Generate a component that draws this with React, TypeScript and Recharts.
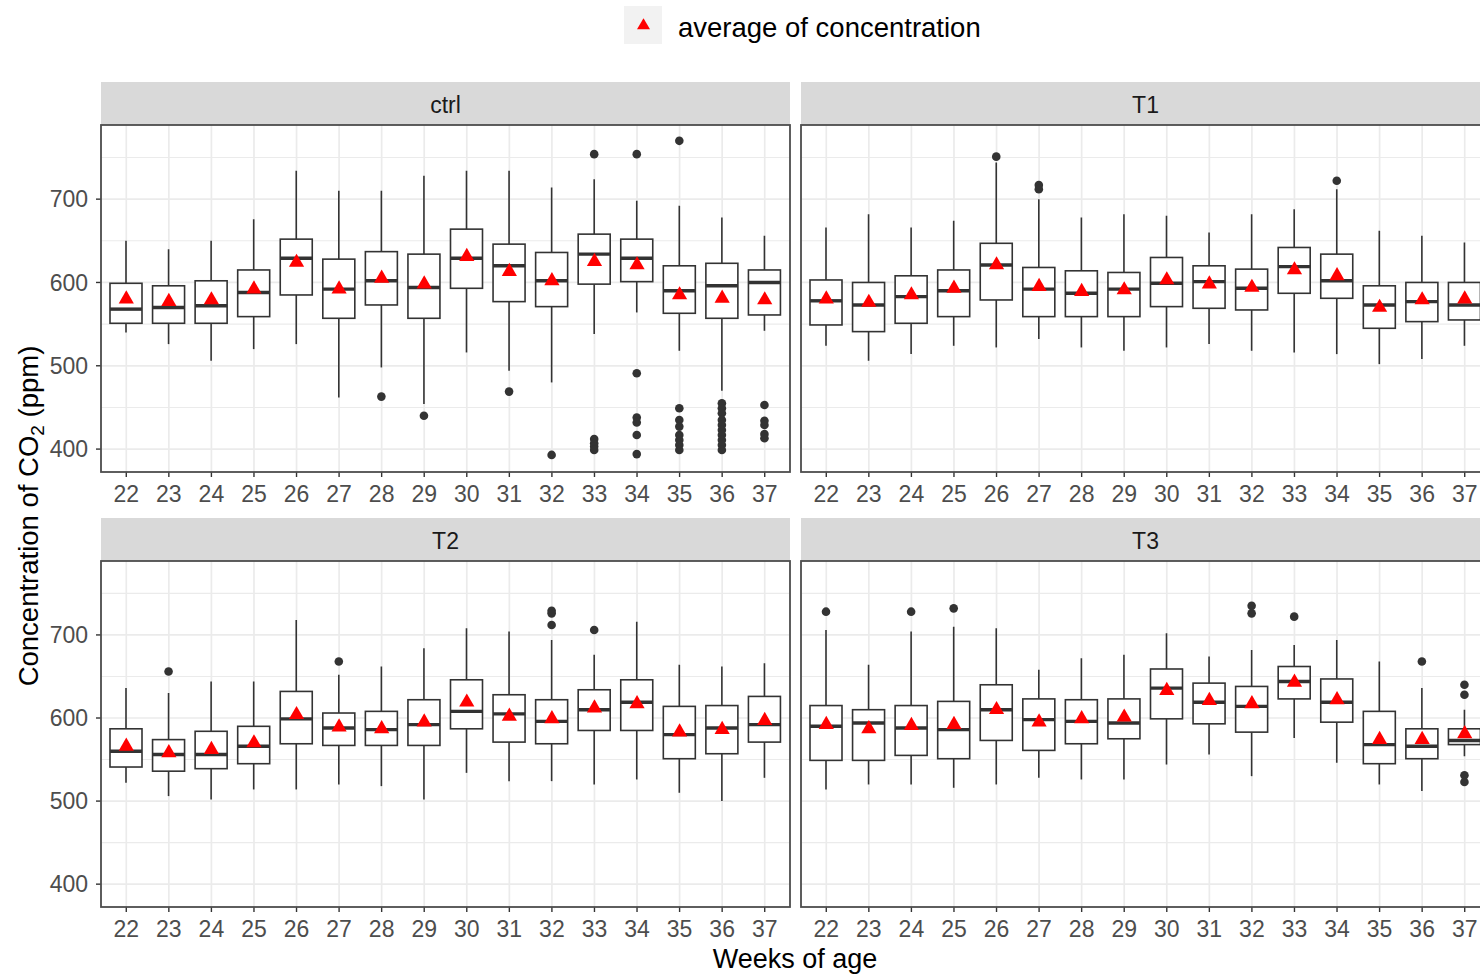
import React from "react";
import { ComposedChart, Bar, Line, XAxis, YAxis, CartesianGrid } from "recharts";

// ---------- data ----------
const weeks = [22, 23, 24, 25, 26, 27, 28, 29, 30, 31, 32, 33, 34, 35, 36, 37];

const ctrlLow = [540, 526, 506, 520, 526, 462, 498, 454, 516, 494, 480, 538, 564, 518, 470, 542];
const ctrlQ1 = [551, 551, 551, 559, 585, 557, 573, 557, 593, 577, 571, 598, 601, 563, 557, 561];
const ctrlMedian = [568, 570, 572, 588, 629, 592, 602, 594, 629, 620, 602, 634, 629, 590, 596, 600];
const ctrlQ3 = [599, 596, 602, 615, 652, 628, 637, 634, 664, 646, 636, 658, 652, 620, 623, 615];
const ctrlHigh = [650, 640, 650, 676, 734, 710, 710, 728, 734, 734, 714, 724, 698, 692, 678, 656];
const ctrlMean = [580, 577, 579, 592, 624, 592, 605, 598, 631, 613, 602, 625, 621, 585, 581, 579];
const ctrlOutliers = [
  [], [], [], [], [], [], [463], [440], [], [469], [393],
  [754, 412, 407, 403, 399],
  [754, 491, 438, 432, 417, 394],
  [770, 449, 435, 427, 417, 411, 405, 399],
  [455, 449, 443, 435, 429, 423, 417, 411, 405, 399],
  [453, 434, 429, 418, 413],
];

const t1Low = [524, 506, 514, 524, 522, 532, 522, 518, 522, 526, 518, 516, 514, 502, 508, 524];
const t1Q1 = [549, 541, 551, 559, 579, 559, 559, 559, 571, 569, 567, 587, 581, 545, 553, 555];
const t1Median = [578, 573, 583, 590, 621, 592, 587, 592, 599, 601, 593, 619, 602, 573, 577, 573];
const t1Q3 = [603, 600, 608, 615, 647, 618, 614, 612, 630, 620, 616, 642, 634, 596, 600, 600];
const t1High = [666, 682, 666, 674, 744, 700, 678, 682, 680, 660, 682, 688, 712, 662, 656, 648];
const t1Mean = [580, 576, 585, 593, 621, 595, 589, 591, 603, 598, 594, 615, 608, 570, 579, 580];
const t1Outliers = [[], [], [], [], [751], [717, 712], [], [], [], [], [], [], [722], [], [], []];

const t2Low = [522, 506, 502, 514, 514, 520, 518, 502, 534, 524, 524, 520, 526, 510, 500, 528];
const t2Q1 = [541, 536, 539, 545, 569, 567, 567, 567, 587, 571, 569, 585, 585, 551, 557, 571];
const t2Median = [560, 556, 556, 566, 599, 588, 586, 592, 608, 605, 596, 610, 619, 580, 588, 592];
const t2Q3 = [587, 574, 584, 590, 632, 606, 608, 622, 646, 628, 622, 634, 646, 614, 615, 626];
const t2High = [636, 630, 644, 644, 718, 652, 662, 684, 708, 704, 694, 676, 716, 664, 662, 666];
const t2Mean = [566, 558, 562, 570, 604, 589, 587, 595, 619, 602, 599, 612, 617, 583, 586, 597];
const t2Outliers = [[], [656], [], [], [], [668], [], [], [], [], [729, 726, 712], [706], [], [], [], []];

const t3Low = [514, 520, 520, 516, 520, 528, 526, 526, 544, 556, 530, 576, 546, 520, 512, 554];
const t3Q1 = [549, 549, 555, 551, 573, 561, 569, 575, 599, 593, 583, 623, 595, 545, 551, 568];
const t3Median = [590, 594, 588, 586, 610, 598, 596, 594, 636, 619, 614, 644, 619, 568, 566, 573];
const t3Q3 = [615, 610, 615, 620, 640, 623, 622, 623, 659, 642, 638, 662, 647, 608, 587, 587];
const t3High = [706, 664, 704, 710, 708, 658, 672, 676, 702, 674, 682, 688, 694, 668, 636, 610];
const t3Mean = [592, 587, 591, 592, 610, 595, 599, 601, 633, 621, 617, 643, 622, 574, 574, 581];
const t3Outliers = [[728], [], [728], [732], [], [], [], [], [], [], [735, 726], [722], [], [], [668], [640, 628, 531, 523]];

const yTicks = [400, 500, 600, 700];
const majorGrid = [400, 500, 600, 700];
const minorGrid = [450, 550, 650, 750];
const yDomain: [number, number] = [372.5, 789];

const facetNames = ["ctrl", "T1", "T2", "T3"];
const legendLabel = "average of concentration";
const xTitle = "Weeks of age";

// ---------- helpers ----------
const FONT = "'Liberation Sans', Arial, Helvetica, sans-serif";
const PANEL_W = 689;

type Row = {
  week: string;
  lo: number;
  q1: number;
  med: number;
  q3: number;
  hi: number;
  mean: number;
  outliers: number[];
};

function buildRows(
  lo: number[], q1: number[], med: number[], q3: number[], hi: number[], mean: number[], out: number[][]
): Row[] {
  return weeks.map((w, i) => ({
    week: String(w),
    lo: lo[i],
    q1: q1[i],
    med: med[i],
    q3: q3[i],
    hi: hi[i],
    mean: mean[i],
    outliers: out[i],
  }));
}

const ctrlRows = buildRows(ctrlLow, ctrlQ1, ctrlMedian, ctrlQ3, ctrlHigh, ctrlMean, ctrlOutliers);
const t1Rows = buildRows(t1Low, t1Q1, t1Median, t1Q3, t1High, t1Mean, t1Outliers);
const t2Rows = buildRows(t2Low, t2Q1, t2Median, t2Q3, t2High, t2Mean, t2Outliers);
const t3Rows = buildRows(t3Low, t3Q1, t3Median, t3Q3, t3High, t3Mean, t3Outliers);

const LINE = "#333333";

const BoxShape = (props: any) => {
  const { x, y, width, height, payload } = props;
  if (!payload || !isFinite(y) || !isFinite(height)) return <g />;
  const top = Math.min(y, y + height);
  const h = Math.abs(height);
  const { lo, hi, q1, q3, med, outliers } = payload as Row;
  const py = (v: number) => top + ((hi - v) / (hi - lo)) * h;
  const cx = x + width / 2;
  return (
    <g>
      <line x1={cx} x2={cx} y1={py(hi)} y2={py(q3)} stroke={LINE} strokeWidth={1.6} />
      <line x1={cx} x2={cx} y1={py(q1)} y2={py(lo)} stroke={LINE} strokeWidth={1.6} />
      <rect x={x} y={py(q3)} width={width} height={py(q1) - py(q3)} fill="#FFFFFF" stroke={LINE} strokeWidth={1.6} />
      <line x1={x} x2={x + width} y1={py(med)} y2={py(med)} stroke={LINE} strokeWidth={3.4} />
      {outliers.map((v, k) => (
        <circle key={k} cx={cx} cy={py(v)} r={4.3} fill={LINE} />
      ))}
    </g>
  );
};

const TriangleDot = (props: any) => {
  const { cx, cy, index } = props;
  if (cx == null || cy == null || !isFinite(cy)) return <g key={`t${index}`} />;
  const s = 7.6;
  const up = 8.8;
  const dn = 4.4;
  return (
    <path
      key={`t${index}`}
      d={`M${cx},${cy - up}L${cx + s},${cy + dn}L${cx - s},${cy + dn}Z`}
      fill="#FF0000"
    />
  );
};

type FacetProps = { rows: Row[]; plotLeft: number; plotTop: number; plotH: number; showY: boolean };

function Facet({ rows, plotLeft, plotTop, plotH, showY }: FacetProps) {
  const yW = showY ? 101 : 0;
  const tickStyle = { fontSize: 23, fill: "#4D4D4D", fontFamily: FONT };
  return (
    <div style={{ position: "absolute", left: plotLeft - yW, top: plotTop }}>
      <ComposedChart
        width={yW + PANEL_W}
        height={plotH + 40}
        data={rows}
        margin={{ top: 0, right: 0, bottom: 0, left: 0 }}
      >
        <CartesianGrid horizontalValues={minorGrid} vertical={false} stroke="#EBEBEB" strokeWidth={1.1} />
        <CartesianGrid horizontalValues={majorGrid} stroke="#EBEBEB" strokeWidth={1.7} />
        <XAxis
          dataKey="week"
          type="category"
          interval={0}
          padding={{ left: 4, right: 4 }}
          axisLine={false}
          tickLine={{ stroke: LINE, strokeWidth: 1.4 }}
          tickSize={5}
          tickMargin={9}
          tick={tickStyle}
          height={40}
        />
        <YAxis
          type="number"
          domain={yDomain}
          ticks={yTicks}
          allowDataOverflow
          interval={0}
          hide={!showY}
          width={yW}
          axisLine={false}
          tickLine={{ stroke: LINE, strokeWidth: 1.4 }}
          tickSize={5}
          tickMargin={8}
          tick={tickStyle}
        />
        <Bar
          dataKey={(d: Row) => [d.lo, d.hi]}
          barSize={32}
          shape={BoxShape}
          isAnimationActive={false}
        />
        <Line
          dataKey="mean"
          stroke="none"
          dot={TriangleDot}
          activeDot={false}
          legendType="none"
          isAnimationActive={false}
        />
      </ComposedChart>
    </div>
  );
}

const panels = [
  { name: facetNames[0], rows: ctrlRows, left: 101, top: 125, h: 347, showY: true },
  { name: facetNames[1], rows: t1Rows, left: 801, top: 125, h: 347, showY: false },
  { name: facetNames[2], rows: t2Rows, left: 101, top: 561, h: 346, showY: true },
  { name: facetNames[3], rows: t3Rows, left: 801, top: 561, h: 346, showY: false },
];

export default function App() {
  return (
    <div
      style={{
        position: "absolute",
        left: 0,
        top: 0,
        width: 1480,
        height: 978,
        overflow: "hidden",
        background: "#FFFFFF",
        fontFamily: FONT,
      }}
    >
      {/* background: legend, strips, axis titles */}
      <svg width={1480} height={978} style={{ position: "absolute", left: 0, top: 0 }}>
        <rect x={624} y={6} width={38} height={38} fill="#F2F2F2" />
        <path d="M643.5,18.3L650,29.3L637,29.3Z" fill="#FF0000" />
        <text x={678} y={37} fontSize={27.5} fill="#000" fontFamily={FONT}>
          {legendLabel}
        </text>
        {panels.map((p) => (
          <g key={p.name}>
            <rect x={p.left} y={p.top - 43} width={PANEL_W} height={43} fill="#D9D9D9" />
            <text
              x={p.left + PANEL_W / 2}
              y={p.top - 12}
              textAnchor="middle"
              fontSize={23}
              fill="#1A1A1A"
              fontFamily={FONT}
            >
              {p.name}
            </text>
          </g>
        ))}
        <text x={795} y={968} textAnchor="middle" fontSize={27} fill="#000" fontFamily={FONT}>
          {xTitle}
        </text>
        <text
          x={38}
          y={516}
          textAnchor="middle"
          fontSize={27.5}
          fill="#000"
          fontFamily={FONT}
          transform="rotate(-90, 38, 516)"
        >
          Concentration of CO
          <tspan fontSize={19} dy={6}>2</tspan>
          <tspan dy={-6}> (ppm)</tspan>
        </text>
      </svg>

      {panels.map((p) => (
        <Facet key={p.name} rows={p.rows} plotLeft={p.left} plotTop={p.top} plotH={p.h} showY={p.showY} />
      ))}

      {/* panel borders */}
      <svg width={1480} height={978} style={{ position: "absolute", left: 0, top: 0, pointerEvents: "none" }}>
        {panels.map((p) => (
          <rect
            key={p.name}
            x={p.left}
            y={p.top}
            width={PANEL_W}
            height={p.h}
            fill="none"
            stroke="#4D4D4D"
            strokeWidth={1.8}
          />
        ))}
      </svg>
    </div>
  );
}
